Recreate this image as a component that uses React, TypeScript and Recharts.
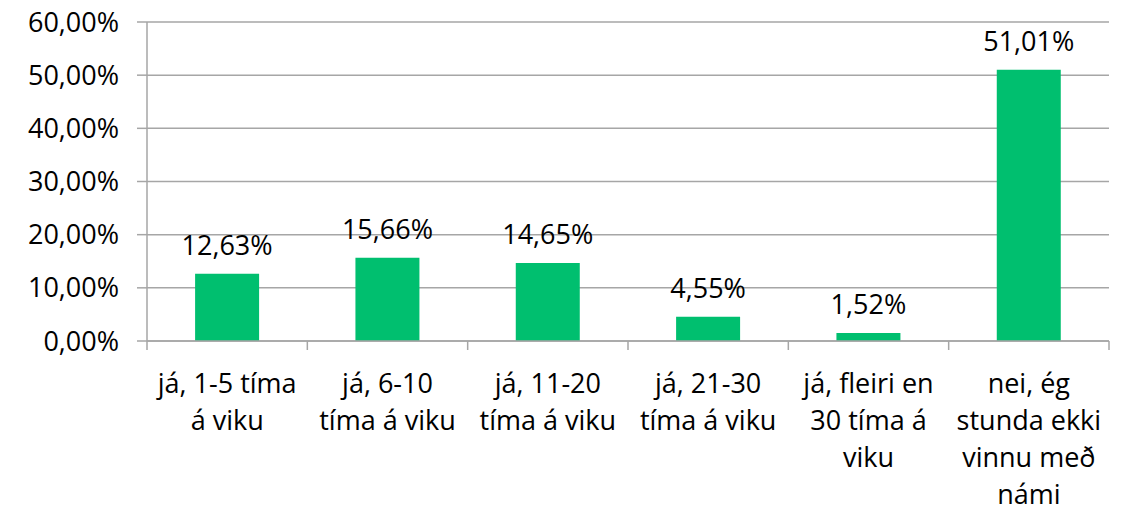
import React from "react";
import { BarChart, Bar, XAxis, YAxis, CartesianGrid, LabelList } from "recharts";

const categories: string[][] = [
  ["já, 1-5 tíma", "á viku"],
  ["já, 6-10", "tíma á viku"],
  ["já, 11-20", "tíma á viku"],
  ["já, 21-30", "tíma á viku"],
  ["já, fleiri en", "30 tíma á", "viku"],
  ["nei, ég", "stunda ekki", "vinnu með", "námi"],
];
const values: number[] = [12.63, 15.66, 14.65, 4.55, 1.52, 51.01];
const yTicks: number[] = [0, 10, 20, 30, 40, 50, 60];

const data = categories.map((lines, i) => ({ key: String(i), lines, value: values[i] }));

const W = 1132;
const H = 512;
const LEFT = 147;
const RIGHT = 23;
const TOP = 22;
const XAXIS_H = 171;
const FONT = "'Open Sans', 'DejaVu Sans', sans-serif";
const FS = 27;
const GRID = "#a6a6a6";

const fmt = (v: number) => v.toFixed(2).replace(".", ",") + "%";

const XTick = (props: any) => {
  const { x, y, payload, index } = props;
  const half = (W - LEFT - RIGHT) / categories.length / 2;
  const lines = categories[Number(payload.value)] || [];
  return (
    <g>
      <line x1={x - half} y1={y} x2={x - half} y2={y + 9} stroke={GRID} strokeWidth={1.5} />
      {index === categories.length - 1 && (
        <line x1={x + half} y1={y} x2={x + half} y2={y + 9} stroke={GRID} strokeWidth={1.5} />
      )}
      <text x={x} y={y + 52} textAnchor="middle" fontFamily={FONT} fontSize={FS} fill="#000">
        {lines.map((l, i) => (
          <tspan key={i} x={x} dy={i === 0 ? 0 : 37}>
            {l}
          </tspan>
        ))}
      </text>
    </g>
  );
};

export default function App() {
  return (
    <div style={{ position: "absolute", left: 0, top: 0, width: W, height: H, background: "#fff" }}>
      <BarChart
        width={W}
        height={H}
        data={data}
        margin={{ top: TOP, right: RIGHT, bottom: 0, left: 0 }}
        barCategoryGap="30%"
      >
        <CartesianGrid vertical={false} stroke={GRID} strokeWidth={1.5} />
        <XAxis
          dataKey="key"
          height={XAXIS_H}
          interval={0}
          tick={<XTick />}
          tickLine={false}
          tickSize={0}
          tickMargin={0}
          axisLine={{ stroke: GRID, strokeWidth: 1.5 }}
        />
        <YAxis
          width={LEFT}
          domain={[0, 60]}
          ticks={yTicks}
          tickFormatter={fmt}
          tickSize={10}
          tickMargin={18}
          tickLine={{ stroke: GRID, strokeWidth: 1.5 }}
          axisLine={{ stroke: GRID, strokeWidth: 1.5 }}
          tick={{ fontFamily: FONT, fontSize: FS, fill: "#000" }}
        />
        <Bar dataKey="value" fill="#00bf6f" isAnimationActive={false}>
          <LabelList
            dataKey="value"
            position="top"
            offset={19}
            formatter={(v: any) => fmt(Number(v))}
            style={{ fontFamily: FONT, fontSize: FS, fill: "#000" }}
          />
        </Bar>
      </BarChart>
    </div>
  );
}
